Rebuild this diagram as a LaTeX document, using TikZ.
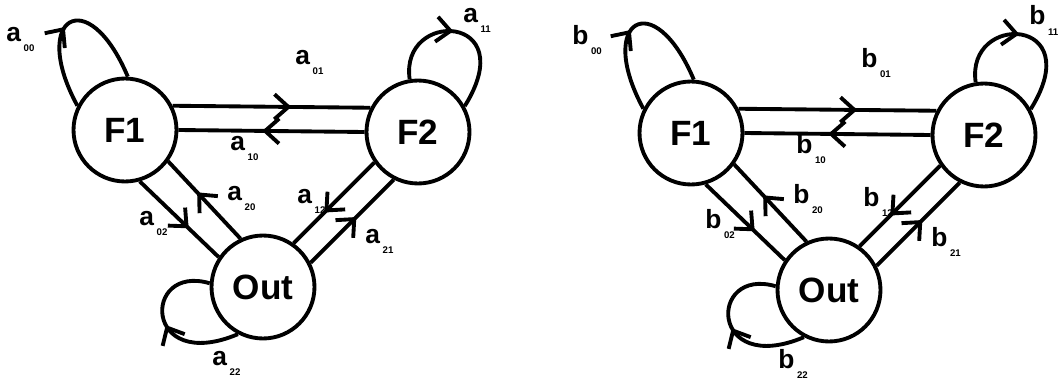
\documentclass[tikz,border=0pt]{standalone}
\usepackage{fontspec}
\setmainfont{Liberation Sans}
\usetikzlibrary{arrows.meta,decorations.markings}

\newcommand{\wt}[2]{#1\kern1.5pt\raisebox{-6pt}{\fontsize{5.5}{6}\selectfont #2}}

\begin{document}
\begin{tikzpicture}[x=0.02cm,y=-0.02cm,
        state/.style={circle,draw,line width=2.2pt,minimum size=2.06cm,inner sep=0pt,font=\fontsize{20}{22}\selectfont\bfseries},
        flow/.style={line width=2.2pt,postaction={decorate},decoration={markings,mark=at position #1 with {\arrow{Straight Barb[length=2.8mm,width=5mm]}}}},
        wlabel/.style={anchor=base west,inner sep=0pt,font=\fontsize{15}{17}\selectfont\bfseries}]
            \useasboundingbox (0,0) rectangle (1062,382);
            \foreach \s/\dx/\dy in {a/0/0,b/566/3}{
                \begin{scope}[shift={(\dx,\dy)}]
                    \node[state] (F1\s) at (125,130) {F1};
                    \node[state] (F2\s) at (418,132) {F2};
                    \node[state] (Out\s) at (263,287) {Out};

                    \draw[flow=0.6] (F1\s.27) -- (F2\s.153);
                    \draw[flow=0.55] (F2\s.180) -- (F1\s.0);
                    \draw[flow=0.62] (F1\s.-74) -- (Out\s.146);
                    \draw[flow=0.6] (Out\s.115) -- (F1\s.-36);
                    \draw[flow=0.62] (F2\s.-145) -- (Out\s.55);
                    \draw[flow=0.55] (Out\s.27) -- (F2\s.-117);

                    \draw[flow=0.47] (F1\s.153) .. controls +(-48,-88) and +(-40,-95) .. (F1\s.87);
                    \draw[flow=0.45] (F2\s.99) .. controls +(-10,-70) and +(58,-93) .. (F2\s.29);
                    \draw[flow=0.5] (Out\s.-118) .. controls +(-95,40) and +(-68,-20) .. (Out\s.176);

                    \node[wlabel] (w00\s) at (6,41) {\wt{\s}{00}};
                    \node[wlabel] (w01\s) at (295,64) {\wt{\s}{01}};
                    \node[wlabel] (w10\s) at (230,150) {\wt{\s}{10}};
                    \node[wlabel] (w11\s) at (463,22) {\wt{\s}{11}};
                    \node[wlabel] (w02\s) at (139,225) {\wt{\s}{02}};
                    \node[wlabel] (w20\s) at (227,200) {\wt{\s}{20}};
                    \node[wlabel] (w12\s) at (297,203) {\wt{\s}{12}};
                    \node[wlabel] (w21\s) at (365,243) {\wt{\s}{21}};
                    \node[wlabel] (w22\s) at (212,365) {\wt{\s}{22}};
                \end{scope}
            }
        \end{tikzpicture}
\end{document}
